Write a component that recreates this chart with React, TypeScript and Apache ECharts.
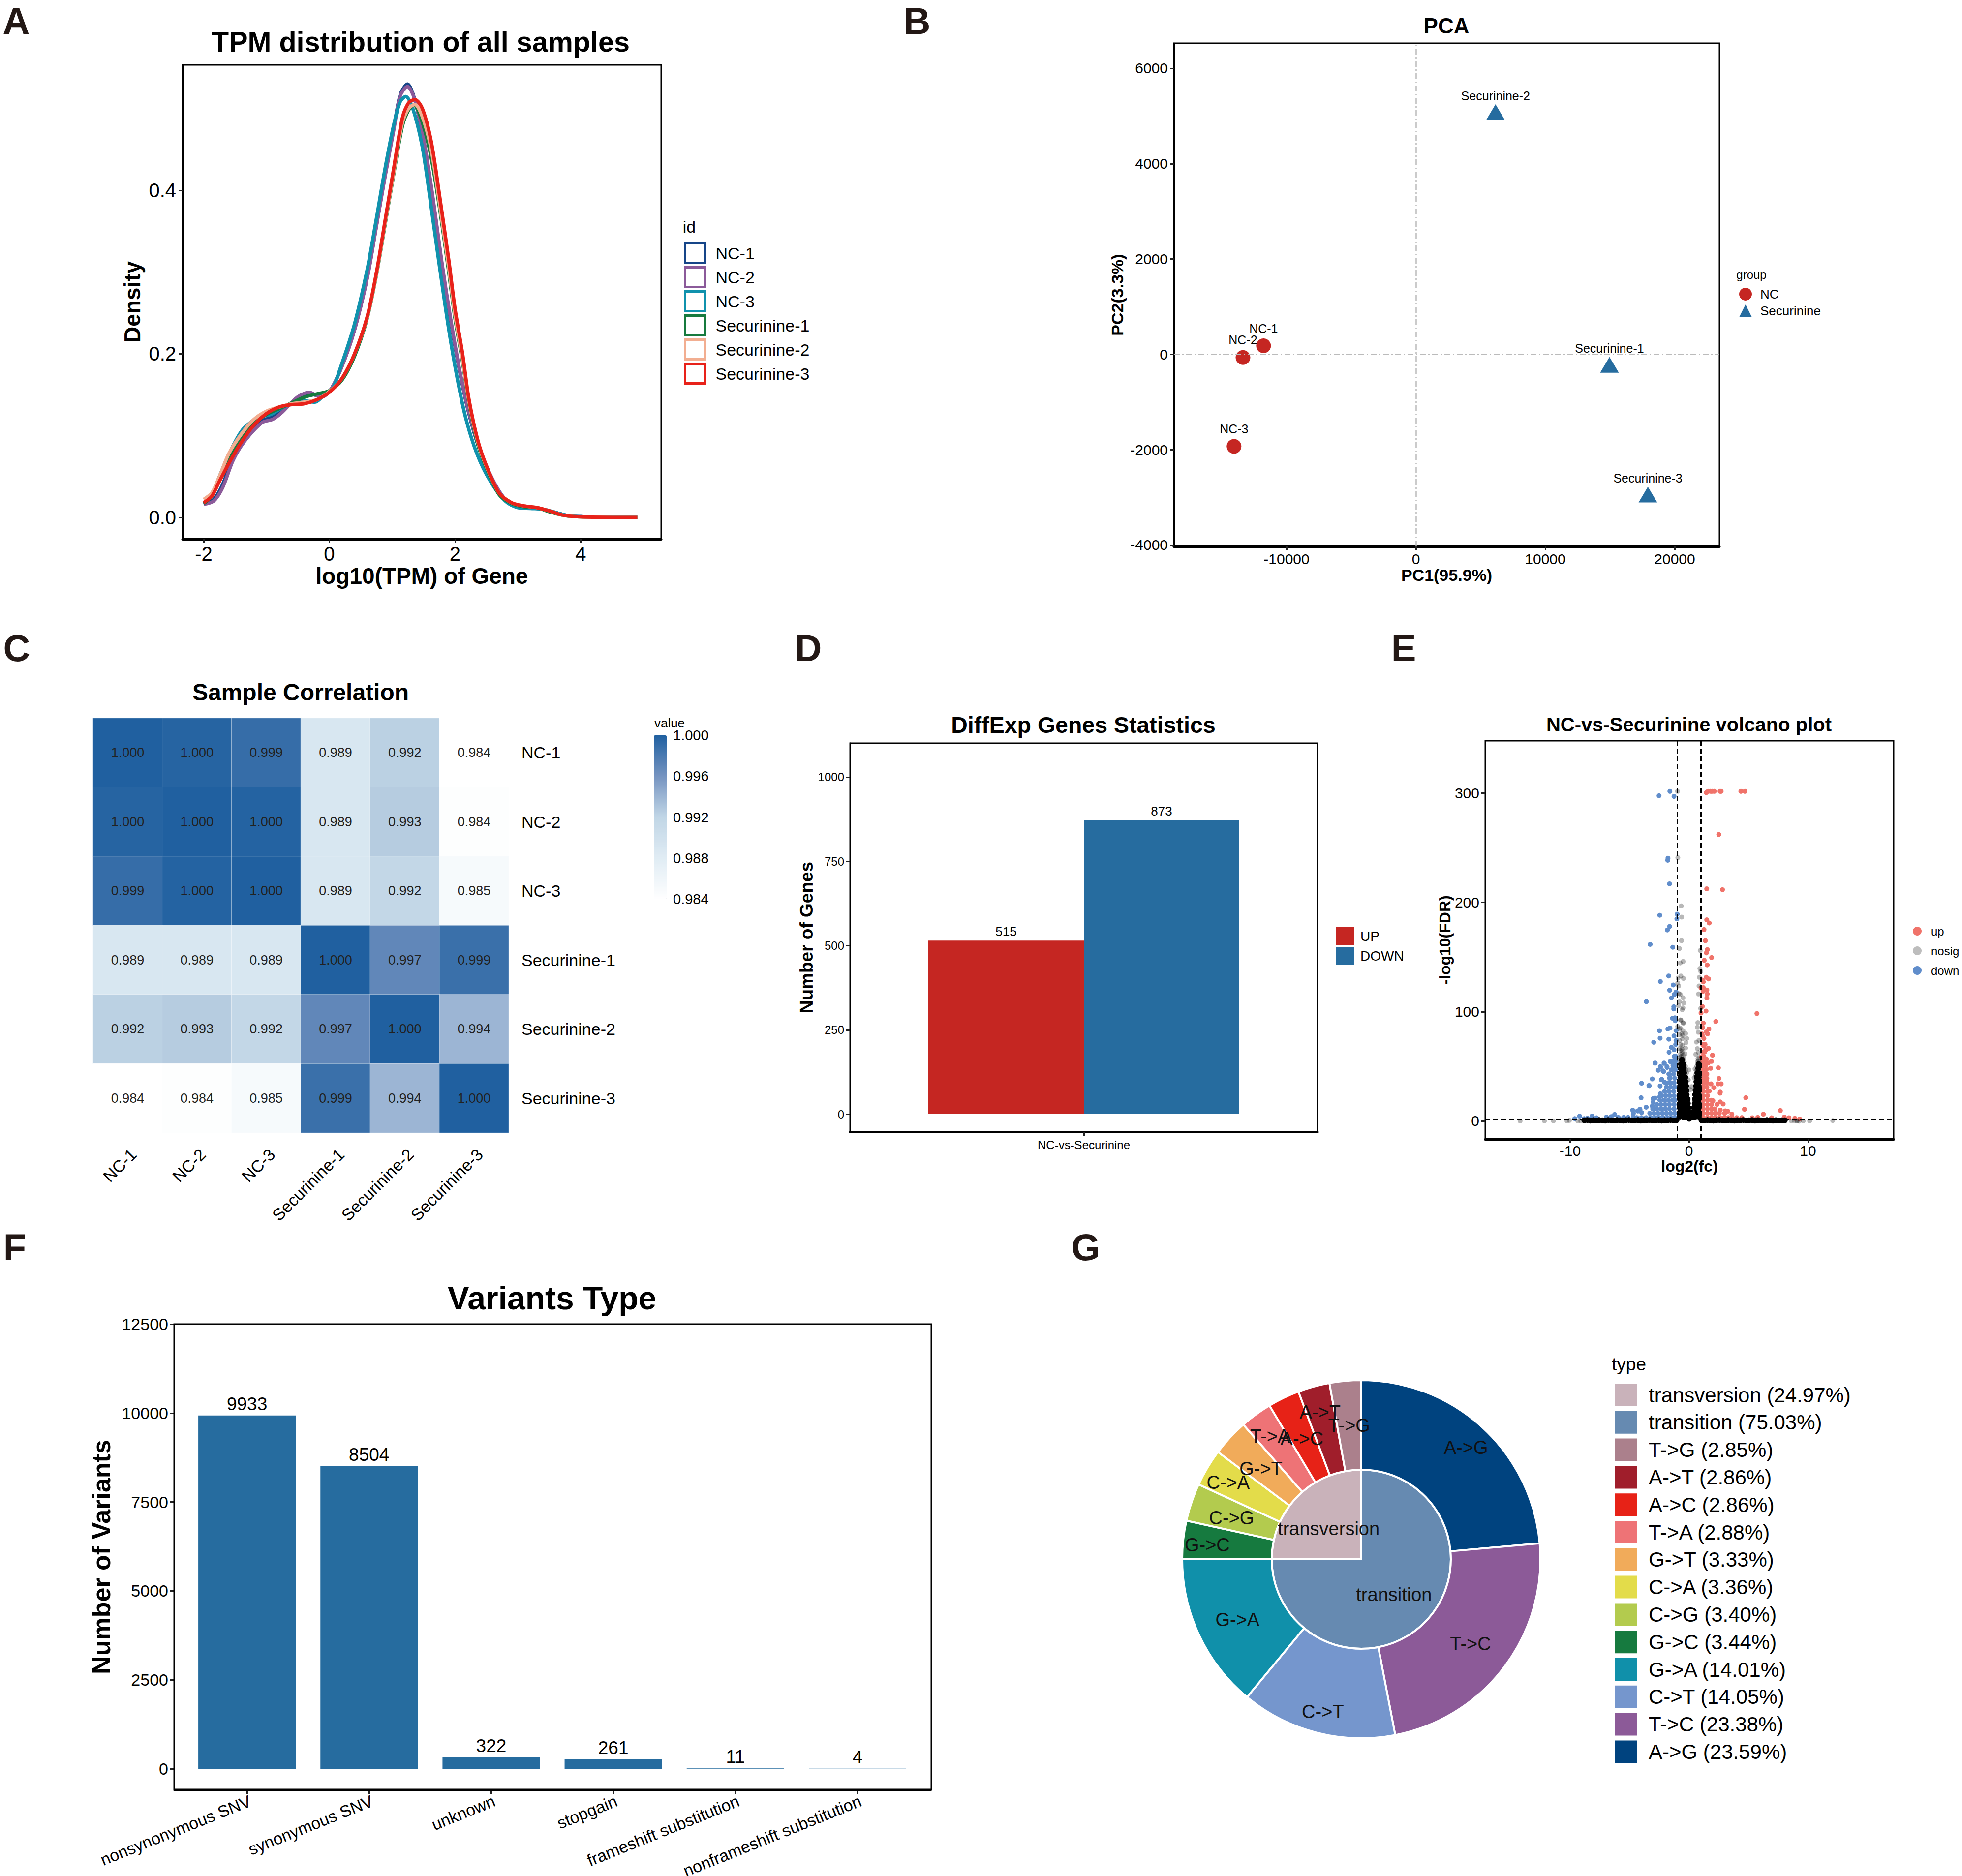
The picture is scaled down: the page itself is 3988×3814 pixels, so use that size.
import { useEffect, useRef } from 'react'
import * as echarts from 'echarts'

const FONT = '"Liberation Sans", Arial, sans-serif'

// ===== A: density curves =====
const densityNames = ['NC-1', 'NC-2', 'NC-3', 'Securinine-1', 'Securinine-2', 'Securinine-3']
const densityColors = ['#164588', '#8B5A9A', '#1092AD', '#177A3E', '#F2AE91', '#E8221A']
const nc1 = [[-2,.016],[-1.84,.022],[-1.7,.04],[-1.53,.074],[-1.35,.097],[-1.07,.118],[-.9,.123],[-.76,.13],[-.51,.146],[-.32,.151],[-.13,.148],[.01,.155],[.185,.182],[.395,.228],[.604,.294],[.744,.355],[.884,.417],[1.023,.475],[1.128,.517],[1.243,.53],[1.355,.512],[1.512,.456],[1.652,.387],[1.79,.31],[1.93,.241],[2.07,.18],[2.21,.13],[2.385,.084],[2.595,.046],[2.8,.022],[3,.014],[3.2,.012],[3.4,.01],[3.6,.006],[3.8,.002],[4,.001],[4.5,0],[4.9,0]]
const nc2 = [[-2,.016],[-1.84,.02],[-1.7,.036],[-1.53,.07],[-1.35,.093],[-1.07,.116],[-.9,.12],[-.76,.128],[-.51,.147],[-.32,.153],[-.13,.147],[.01,.155],[.185,.1816],[.395,.2276],[.604,.293],[.744,.354],[.884,.4157],[1.023,.473],[1.128,.5155],[1.243,.527],[1.355,.5117],[1.512,.458],[1.652,.389],[1.79,.312],[1.93,.243],[2.07,.1816],[2.21,.1317],[2.385,.0856],[2.595,.047],[2.8,.022],[3,.014],[3.2,.012],[3.4,.01],[3.6,.006],[3.8,.002],[4,.001],[4.5,0],[4.9,0]]
const nc3 = [[-2,.018],[-1.87,.027],[-1.75,.05],[-1.6,.077],[-1.387,.1067],[-1.14,.122],[-.93,.126],[-.72,.1355],[-.44,.143],[-.23,.141],[-.09,.149],[.045,.1566],[.185,.185],[.395,.235],[.604,.304],[.744,.3635],[.884,.4257],[1.023,.4797],[1.128,.5085],[1.215,.5148],[1.32,.502],[1.477,.454],[1.617,.3812],[1.757,.3045],[1.897,.2315],[2.036,.1696],[2.176,.1197],[2.35,.0775],[2.56,.0445],[2.8,.02],[3,.012],[3.2,.011],[3.4,.01],[3.6,.006],[3.8,.002],[4,.001],[4.5,0],[4.9,0]]
const sec1 = [[-2,.017],[-1.87,.026],[-1.75,.047],[-1.6,.07],[-1.4,.097],[-1.2,.115],[-1,.126],[-.8,.133],[-.6,.14],[-.4,.147],[-.2,.151],[0,.155],[.2,.168],[.4,.197],[.6,.243],[.75,.297],[.88,.355],[1.02,.418],[1.16,.478],[1.26,.498],[1.345,.504],[1.48,.483],[1.62,.44],[1.76,.375],[1.9,.3],[2,.243],[2.12,.19],[2.22,.14],[2.36,.09],[2.5,.06],[2.7,.028],[2.9,.017],[3.1,.013],[3.3,.012],[3.5,.007],[3.7,.003],[3.9,.001],[4.5,0],[4.9,0]]
const sec2 = [[-2,.022],[-1.87,.03],[-1.75,.05],[-1.6,.078],[-1.4,.102],[-1.2,.12],[-1,.13],[-.8,.135],[-.6,.139],[-.4,.141],[-.2,.144],[0,.154],[.2,.17],[.4,.2],[.6,.244],[.75,.298],[.88,.357],[1.02,.42],[1.16,.482],[1.26,.5],[1.36,.505],[1.48,.49],[1.62,.45],[1.76,.38],[1.9,.305],[2,.247],[2.12,.193],[2.22,.142],[2.36,.093],[2.5,.062],[2.7,.03],[2.9,.018],[3.1,.014],[3.3,.012],[3.5,.008],[3.7,.003],[3.9,.001],[4.5,0],[4.9,0]]
const sec3 = [[-2,.018],[-1.87,.026],[-1.75,.044],[-1.6,.066],[-1.4,.092],[-1.2,.113],[-1,.127],[-.8,.135],[-.6,.138],[-.4,.139],[-.2,.144],[0,.153],[.2,.17],[.4,.2],[.6,.245],[.75,.3],[.88,.36],[1.02,.425],[1.16,.488],[1.26,.507],[1.36,.511],[1.48,.5],[1.62,.46],[1.76,.39],[1.9,.315],[2,.255],[2.12,.2],[2.22,.145],[2.36,.095],[2.5,.063],[2.7,.03],[2.9,.018],[3.1,.014],[3.3,.012],[3.5,.008],[3.7,.003],[3.9,.001],[4.5,0],[4.9,0]]
const densityCurves = [nc1, nc2, nc3, sec1, sec2, sec3]
const densityXTicks = [-2, 0, 2, 4]
const densityYTicks = [0, 0.2, 0.4]

// ===== B: PCA =====
const pcaNC = [{ name: 'NC-1', value: [-11775, 179] }, { name: 'NC-2', value: [-13366, -65] }, { name: 'NC-3', value: [-14056, -1932] }]
const pcaSec = [{ name: 'Securinine-1', value: [14960, -220] }, { name: 'Securinine-2', value: [6153, 5080] }, { name: 'Securinine-3', value: [17930, -2943] }]
const pcaXTicks = [-10000, 0, 10000, 20000]
const pcaYTicks = [-4000, -2000, 0, 2000, 4000, 6000]

// ===== C: correlation =====
const corrNames = ['NC-1', 'NC-2', 'NC-3', 'Securinine-1', 'Securinine-2', 'Securinine-3']
const corrRows = [
  [1.0, 0.9997, 0.999, 0.989, 0.9923, 0.984],
  [0.9997, 1.0, 0.9998, 0.989, 0.9926, 0.9842],
  [0.999, 0.9998, 1.0, 0.989, 0.9918, 0.9851],
  [0.989, 0.989, 0.989, 1.0, 0.997, 0.9988],
  [0.9923, 0.9926, 0.9918, 0.997, 1.0, 0.994],
  [0.984, 0.9842, 0.9851, 0.9988, 0.994, 1.0],
]
const corrTicks = [0.984, 0.988, 0.992, 0.996, 1.0]
const corrRamp = ['#FFFFFF', '#E0ECF4', '#C1D6E6', '#7694C1', '#2060A0']

// ===== D: DEG counts =====
const degCategory = ['NC-vs-Securinine']
const degUp = [515]
const degDown = [873]
const degTicks = [0, 250, 500, 750, 1000]

// ===== E: volcano (the dense core is estimated) =====
const upPoints = [[1.45,300.5],[1.6,301.7],[1.81,301.7],[1.94,301.7],[2.12,301.7],[2.61,301.7],[2.7,301.7],[4.36,301.7],[4.7,301.7],[2.5,262.2],[1.49,212.5],[2.81,211.7],[1.49,184.1],[1.7,181.2],[1.26,175.2],[1.37,165],[1.54,156.8],[1.46,153.8],[1.9,149.5],[1.28,147],[1.53,142.8],[1.45,131.5],[1.64,130],[1.12,129],[1.2,127.3],[1.2,122],[1.01,121.8],[1.5,119.8],[1.19,118.8],[1.53,116.2],[1.5,112.5],[1.12,104.8],[1.43,100.6],[1.01,98.8],[5.71,98.3],[2.25,91],[1.2,89.6],[1.15,85.3],[1.67,84.2],[1.46,81.5],[1.09,79.7],[1.56,79.7],[1.25,75.5],[1.25,68.5],[1.64,66.5],[1.39,64.7],[1.97,60.2],[1.05,58.7],[1.25,58.7],[1.46,56.5],[1.88,54.5],[1.6,53],[2.47,48.6],[1.81,48.2],[1.32,46.7],[2.52,38.9],[1.39,42.2],[1.46,37.7],[1.85,33.9],[2.43,33.9],[2.7,33.9],[2.08,30.5],[2.63,26.4],[2.61,25.4],[1.7,27.2],[4.77,21.2],[2.01,18.5],[2.63,17.4],[2.87,15.5],[2.36,15.2],[4.66,10.7],[7.68,9.5],[6.25,6.2],[3.05,9.2],[3.26,8.9],[3.6,6.2],[2.63,9.9],[6.94,2.9],[8.01,3.5],[8.4,2.9],[5.32,2.9],[5.78,3.2],[4.43,2.9],[8.9,2.4],[9.3,1.8]]
const upBlock = [[1.2,3],[1.55,3],[1.9,3],[2.25,3],[2.6,3],[2.95,3],[3.3,3],[3.6,3],[4,3],[4.45,3],[1.2,7],[1.55,7],[1.9,7],[2.2,7],[2.55,7],[3,7],[1.2,11],[1.55,11],[1.9,11],[2.15,11],[1.2,15],[1.55,15],[1.9,15],[1.2,19],[1.55,19],[1.85,19],[1.2,23],[1.55,23],[1.2,27],[1.55,27],[1.2,31],[1.5,31],[1.2,35],[1.5,35],[1.2,39],[1.5,39],[1.2,43],[1.5,43],[1.2,47],[1.45,47],[1.15,51],[1.4,51],[1.15,55],[1.35,55],[1.15,59],[1.15,63],[1.3,63],[1.15,70],[1.35,70],[1.12,78]]
const downPoints = [[-1.61,301.7],[-2.52,297.7],[-1.26,297.1],[-1.77,240.5],[-1.79,238.6],[-1.64,217],[-2.46,188.3],[-.99,189.3],[-1.02,185],[-1.63,178],[-1.82,174.8],[-3.27,161.6],[-1.37,159],[-1.71,132.7],[-2.41,127.6],[-1.32,124.5],[-1.63,119.7],[-1.09,118],[-1.23,115.8],[-1.48,112.5],[-3.59,109.2],[-1.28,104.5],[-1.28,102.5],[-1.39,94],[-1.19,94.4],[-1.16,91.7],[-1.78,84.2],[-1.6,85],[-2.48,82.6],[-1.09,82.7],[-1.26,77.9],[-2.43,75.7],[-1.7,74.8],[-2.97,72],[-1.09,73.7],[-1.12,70],[-1.49,67.4],[-1.26,65.2],[-1.68,62.9],[-2.86,52.9],[-2.08,52.7],[-1.54,54.2],[-2.41,49.7],[-2.58,46.4],[-1.85,49],[-2.14,45.2],[-3.09,38.4],[-2.29,38],[-3.99,34.5],[-3.35,32.3],[-2.43,32],[-1.64,39.2],[-2.06,35.4],[-2.41,24.9],[-4.03,21.2],[-3.02,20.4],[-2.86,20.9],[-3.6,12.6],[-3.07,13.7],[-4.74,9.9],[-4.12,10.7],[-4.33,9.2],[-6.25,5.9],[-6.95,3.5],[-6.54,3.9],[-9.61,2.1],[-9.2,4.4],[-8.81,2.1],[-8.54,2.4],[-8.16,4.4],[-7.78,2.9],[-6.92,3.2],[-5.95,3.2],[-5.5,3.2],[-5.12,3.2],[-4.68,3.9],[-4.68,6.9],[-4.3,9.1],[-3.98,7.6],[-3.37,32.4],[-3.02,17.3],[-3.09,13.6],[-2.47,21.9],[-2.33,37.7],[-2.84,53],[-2.1,53],[-1.57,54.5],[-2.4,49.4],[-2.19,45.9],[-1.85,49.7],[-1.5,46.7],[-1.6,40],[-1.85,34.7],[-1.5,34.7]]
const downBlock = [[-4.4,3],[-4,3],[-3.6,3],[-3.2,3],[-2.85,3],[-2.5,3],[-2.15,3],[-1.8,3],[-1.45,3],[-1.15,3],[-3.3,7],[-2.95,7],[-2.6,7],[-2.25,7],[-1.9,7],[-1.55,7],[-1.2,7],[-3.05,11],[-2.7,11],[-2.35,11],[-2,11],[-1.65,11],[-1.25,11],[-2.7,15],[-2.35,15],[-2,15],[-1.65,15],[-1.25,15],[-2.45,19],[-2.1,19],[-1.75,19],[-1.4,19],[-1.2,19],[-2.3,23],[-1.95,23],[-1.6,23],[-1.25,23],[-2.05,27],[-1.7,27],[-1.3,27],[-1.9,31],[-1.55,31],[-1.2,31],[-1.7,35],[-1.25,35],[-1.6,39],[-1.2,39],[-1.7,43],[-1.3,43],[-1.4,47],[-1.15,47],[-1.35,51],[-1.15,51],[-1.3,55],[-1.1,55],[-1.25,59],[-1.1,59]]
const nosigPoints = [[-.97,301.7],[-.94,241],[-.66,196.8],[-.62,186.6],[-.63,165],[-.81,157.8],[.94,156],[-.5,146],[-.74,144.6],[-.68,132.7],[-.47,130.5],[-.92,130.8],[-.95,126.3],[-.88,123.6],[.87,131.5],[.84,123.6],[.8,116.2],[-.84,116.5],[-.74,115.8],[-.51,112.8],[-.81,109],[-.44,108],[-.88,105.3],[-.51,103.5],[-.58,101.8],[.91,139.5],[.99,136.8],[.98,103],[-.68,92.2],[-.72,92.5],[-.47,89.5],[-.5,89.9],[.74,90],[.7,85.7],[.79,81.2],[-.95,86.5],[-.74,85],[-.78,84],[-.51,82.7],[-.29,80],[-.81,79],[-.6,80],[-.54,78.2],[-.19,75.5],[-.54,75.2],[-.79,73.7],[-.26,71.5],[-.54,69.2],[-.7,70],[.63,72.2],[.84,73.7],[-.81,66.2],[-.6,66],[-.29,66.7],[-.68,64.7],[-.55,64],[.7,66.2],[.57,61],[.8,62.5],[-.33,61.4],[-.72,61],[-.5,60],[-.6,62],[.7,54.2],[.75,57],[.85,58],[-.01,46.7],[.5,47.7],[.43,39.6],[.22,31.4],[-.06,37.7],[.12,28.7],[-.75,58],[-.65,59],[-.45,57],[-.4,54],[-.3,50],[-.25,47],[-.2,44],[-.82,56],[.78,55],[.88,53],[.65,50],[.6,46],[.55,42],[-14.2,0],[-12.16,0],[-11.4,0],[-10.26,0],[-10.05,.5],[-9.35,0],[-9.1,0],[10.14,0],[12.08,.3],[9.1,0],[9.6,0],[9.27,-.2],[8.6,0],[9.06,0],[8.85,.2]]
const nosigCore = [[-.6,56],[-.68,52],[-.5,52],[-.7,48],[-.45,48],[-.7,44],[-.42,44],[-.72,40],[-.5,40],[-.32,40],[-.75,36],[-.5,36],[-.28,36],[-.75,32],[-.5,32],[-.25,32],[-.77,28],[-.5,28],[-.22,28],[-.77,24],[-.5,24],[-.2,24],[-.77,20],[-.5,20],[-.25,20],[-.12,20],[-.77,16],[-.5,16],[-.25,16],[-.1,16],[-.77,12],[-.5,12],[-.25,12],[-.05,12],[-.77,8],[-.5,8],[-.25,8],[-.02,8],[-.77,4],[-.5,4],[-.25,4],[0,4],[.02,2],[.8,52],[.78,48],[.7,44],[.82,44],[.65,40],[.82,40],[.62,36],[.82,36],[.6,32],[.82,32],[.55,28],[.82,28],[.52,24],[.72,24],[.82,24],[.5,20],[.7,20],[.82,20],[.48,16],[.68,16],[.82,16],[.42,12],[.62,12],[.82,12],[.38,8],[.6,8],[.82,8],[.3,4],[.55,4],[.82,4]]
const nosigBand = [[-8.8,.5],[-8.55,.8],[-8.3,.3],[-8.05,.6],[-7.8,.4],[-7.55,.7],[-7.3,.5],[-7.05,.3],[-6.8,.8],[-6.55,.5],[-6.3,.4],[-6.05,.7],[-5.8,.5],[-5.55,.3],[-5.3,.6],[-5.05,.8],[-4.8,.4],[-4.55,.5],[-4.3,.7],[-4.05,.3],[-3.8,.6],[-3.55,.5],[-3.3,.8],[-3.05,.4],[-2.8,.5],[-2.55,.7],[-2.3,.3],[-2.05,.6],[-1.8,.5],[-1.55,.8],[-1.3,.4],[-1.05,.6],[1.05,.6],[1.3,.4],[1.55,.7],[1.8,.5],[2.05,.3],[2.3,.6],[2.55,.8],[2.8,.5],[3.05,.4],[3.3,.7],[3.55,.5],[3.8,.3],[4.05,.6],[4.3,.5],[4.55,.8],[4.8,.4],[5.05,.5],[5.3,.7],[5.55,.3],[5.8,.6],[6.05,.5],[6.3,.4],[6.55,.7],[6.8,.5],[7.05,.3],[7.3,.6],[7.55,.4],[7.8,.5],[8.05,.5]]
const volcanoXTicks = [-10, 0, 10]
const volcanoYTicks = [0, 100, 200, 300]

// ===== F: variants =====
const variantNames = ['nonsynonymous SNV', 'synonymous SNV', 'unknown', 'stopgain', 'frameshift substitution', 'nonframeshift substitution']
const variantCounts = [9933, 8504, 322, 261, 11, 4]
const variantTicks = [0, 2500, 5000, 7500, 10000, 12500]

// ===== G: substitution types =====
const innerNames = ['transition', 'transversion']
const innerShares = [75.03, 24.97]
const innerColors = ['#668AB1', '#C9B2BA']
const outerNames = ['A->G', 'T->C', 'C->T', 'G->A', 'G->C', 'C->G', 'C->A', 'G->T', 'T->A', 'A->C', 'A->T', 'T->G']
const outerShares = [23.59, 23.38, 14.05, 14.01, 3.44, 3.4, 3.36, 3.33, 2.88, 2.86, 2.86, 2.85]
const outerColors = ['#00437F', '#8C5A98', '#7596CD', '#1090AA', '#167A3F', '#B3CB4E', '#E3DC4A', '#F1AB5A', '#EE7376', '#E72217', '#A01E2B', '#AB808C']

const text = (t: string, x: number, y: number, fontSize: number, bold = true, fill = '#000') => ({
  type: 'text', x, y, z: 10,
  style: { text: t, font: `${bold ? 'bold ' : ''}${fontSize}px ${FONT}`, fill, align: 'center', verticalAlign: 'middle' },
})

const frame = { show: true, borderColor: '#000', borderWidth: 3 }
const tickStyle = { color: '#222', width: 3 }
const tick = (values: number[]) => ({ show: true, customValues: values, length: 8, lineStyle: tickStyle })
const thickLine = { show: true, onZero: false, lineStyle: { color: '#000', width: 5 } }
const thinLine = { show: true, onZero: false, lineStyle: { color: '#000', width: 3 } }
const noLine = { show: false, onZero: false }
const plainLegend = { orient: 'vertical', padding: 0, selectedMode: false }

// clear pie rings only carry labels, a little lower than the visible rings' centre
const labelRing = {
  type: 'pie', center: [2767, 3175], startAngle: 90, clockwise: true, silent: true, z: 4,
  itemStyle: { color: 'rgba(0,0,0,0)', borderWidth: 0 },
  label: { position: 'inside', fontSize: 38, color: '#111' }, labelLine: { show: false }, minShowLabelAngle: 0,
  avoidLabelOverlap: false, labelLayout: { hideOverlap: false },
}

function valueAxis(gridIndex: number, min: number, max: number, ticks: number[], fontSize: number, margin: number, fmt: (v: number) => string, name?: string, nameSize = 0, nameGap = 0) {
  return {
    type: 'value', gridIndex, min, max, splitLine: { show: false },
    axisTick: tick(ticks),
    axisLabel: { customValues: ticks, fontSize, margin, color: '#000', formatter: fmt },
    name, nameLocation: 'middle', nameGap,
    nameTextStyle: { fontSize: nameSize, fontWeight: 'bold', color: '#000' },
  }
}

function buildOption() {
  const heat = corrRows.flatMap((row, y) => row.map((v, x) => [x, y, v]))
  return {
    animation: false,
    backgroundColor: '#fff',
    textStyle: { fontFamily: FONT, color: '#000' },
    grid: [
      { left: 371, top: 132, width: 973, height: 964, ...frame },
      { left: 2386, top: 88, width: 1109, height: 1023, ...frame },
      { left: 189, top: 1460, width: 845, height: 843 },
      { left: 1329, top: 1495, width: 26, height: 333 },
      { left: 1728, top: 1511, width: 950, height: 790, ...frame },
      { left: 3019, top: 1506, width: 830, height: 810, ...frame },
      { left: 378, top: 2692, width: 1489, height: 947 },
    ].map((g) => ({ ...g, outerBoundsMode: 'none' })),
    xAxis: [
      { ...valueAxis(0, -2.336, 5.28, densityXTicks, 40, 10, (v) => String(v), 'log10(TPM) of Gene', 46, 52), axisLine: thickLine },
      { ...valueAxis(1, -18707, 23460, pcaXTicks, 30, 10, (v) => String(v), 'PC1(95.9%)', 34, 40), axisLine: thickLine },
      { type: 'category', gridIndex: 2, data: corrNames, axisLine: noLine, axisTick: { show: false }, splitLine: { show: false }, axisLabel: { rotate: 45, fontSize: 34, margin: 26, color: '#000', interval: 0, verticalAlign: 'top' } },
      { type: 'value', gridIndex: 3, min: 0, max: 1, show: false },
      { type: 'category', gridIndex: 4, data: degCategory, axisLine: thickLine, axisTick: { show: true, alignWithLabel: true, length: 8, lineStyle: tickStyle }, axisLabel: { fontSize: 24, margin: 14, color: '#000' } },
      { ...valueAxis(5, -17.13, 17.2, volcanoXTicks, 30, 8, (v) => String(v), 'log2(fc)', 32, 36), axisLine: thickLine },
      { type: 'category', gridIndex: 6, data: variantNames, axisLine: noLine, axisTick: { show: true, alignWithLabel: true, length: 8, lineStyle: tickStyle }, axisLabel: { rotate: 22, fontSize: 34, margin: 5, color: '#000', interval: 0, verticalAlign: 'top' } },
    ],
    yAxis: [
      { ...valueAxis(0, -0.0265, 0.5534, densityYTicks, 40, 13, (v) => v.toFixed(1), 'Density', 46, 79), axisLine: thinLine },
      { ...valueAxis(1, -4031, 6526, pcaYTicks, 30, 12, (v) => String(v), 'PC2(3.3%)', 34, 98), axisLine: thinLine },
      { type: 'category', gridIndex: 2, data: corrNames, inverse: true, position: 'right', axisLine: noLine, axisTick: { show: false }, splitLine: { show: false }, axisLabel: { fontSize: 34, margin: 26, color: '#000', interval: 0 } },
      { type: 'value', gridIndex: 3, min: 0.984, max: 1, position: 'right', axisLine: noLine, splitLine: { show: false }, axisTick: { show: true, inside: true, length: 5, customValues: corrTicks, lineStyle: { color: '#fff', width: 2 } }, axisLabel: { customValues: corrTicks, fontSize: 29, margin: 13, color: '#000', formatter: (v: number) => v.toFixed(3) } },
      { ...valueAxis(4, -52.5, 1100.7, degTicks, 24, 12, (v) => String(v), 'Number of Genes', 37, 70), axisLine: thinLine },
      { ...valueAxis(5, -16.7, 348, volcanoYTicks, 30, 12, (v) => String(v), '-log10(FDR)', 32, 63), axisLine: thinLine },
      { ...valueAxis(6, -595, 12500, variantTicks, 34, 12, (v) => String(v), 'Number of Variants', 52, 122), offset: 24, axisLine: noLine },
    ],
    visualMap: {
      type: 'continuous', seriesIndex: 8, min: 0.984, max: 1, left: 1329, top: 1495, itemWidth: 26, itemHeight: 333,
      padding: 0, calculable: false, showLabel: false, text: null, inRange: { color: corrRamp },
    },
    legend: [
      {
        ...plainLegend, left: 1390, top: 492, itemWidth: 40, itemHeight: 40, itemGap: 4,
        textStyle: { fontSize: 34, color: '#000', padding: [0, 0, 0, 17] },
        data: densityNames.map((name, i) => ({ name, icon: 'rect', itemStyle: { color: '#fff', borderColor: densityColors[i], borderWidth: 5 } })),
      },
      {
        ...plainLegend, left: 3535, top: 585, itemWidth: 26, itemHeight: 26, itemGap: 8,
        textStyle: { fontSize: 26, color: '#000', padding: [0, 0, 0, 12] },
        data: [{ name: 'NC', icon: 'circle' }, { name: 'Securinine', icon: 'triangle' }],
      },
      {
        ...plainLegend, left: 2715, top: 1885, itemWidth: 37, itemHeight: 36, itemGap: 4,
        textStyle: { fontSize: 28, color: '#000', padding: [0, 0, 0, 8] },
        data: [{ name: 'UP', icon: 'rect' }, { name: 'DOWN', icon: 'rect' }],
      },
      {
        ...plainLegend, left: 3888, top: 1881, itemWidth: 18, itemHeight: 18, itemGap: 16,
        textStyle: { fontSize: 24, color: '#000', padding: [0, 0, 0, 14] },
        data: [
          { name: 'up', icon: 'circle' },
          { name: 'nosig', icon: 'circle', itemStyle: { color: '#BDBDBD', opacity: 1 } },
          { name: 'down', icon: 'circle' },
        ],
      },
      {
        ...plainLegend, left: 3282, top: 2813, itemWidth: 46, itemHeight: 46, itemGap: 9.8,
        textStyle: { fontSize: 42, color: '#000', padding: [0, 0, 0, 18] },
        data: [...[...innerNames].reverse(), ...[...outerNames].reverse()].map((name) => ({ name, icon: 'rect', itemStyle: { borderWidth: 0 } })),
        formatter: (name: string) => {
          const i = innerNames.indexOf(name)
          const share = i >= 0 ? innerShares[i] : outerShares[outerNames.indexOf(name)]
          return `${name} (${share.toFixed(2)}%)`
        },
      },
    ],
    graphic: {
      elements: [
        { type: 'rect', z: 5, shape: { x: 354, y: 2692, width: 1539, height: 947 }, style: { fill: 'none', stroke: '#000', lineWidth: 3 } },
        { type: 'line', z: 5, shape: { x1: 354, y1: 3639, x2: 1893, y2: 3639 }, style: { stroke: '#000', lineWidth: 5 } },
        text('A', 33, 42, 76, true, '#231815'), text('B', 1864, 42, 76, true, '#231815'), text('C', 34, 1317, 76, true, '#231815'),
        text('D', 1643, 1317, 76, true, '#231815'), text('E', 2853, 1317, 76, true, '#231815'),
        text('F', 30, 2535, 76, true, '#231815'), text('G', 2207, 2535, 76, true, '#231815'),
        text('TPM distribution of all samples', 855, 85, 57.5),
        text('PCA', 2940, 52, 44),
        text('Sample Correlation', 611, 1407, 48),
        text('DiffExp Genes Statistics', 2202, 1474, 46.5),
        text('NC-vs-Securinine volcano plot', 3433, 1473, 40),
        text('Variants Type', 1122, 2639, 66),
        text('id', 1401, 461, 34, false),
        text('group', 3560, 558, 24, false),
        text('value', 1361, 1470, 26, false),
        text('type', 3311, 2773, 37, false),
      ],
    },
    series: [
      // 0-5 density curves
      ...densityNames.map((name, i) => ({
        name, type: 'line', xAxisIndex: 0, yAxisIndex: 0, data: densityCurves[i], smooth: 0.3, showSymbol: false,
        lineStyle: { color: densityColors[i], width: 7 }, itemStyle: { color: densityColors[i] },
      })),
      // 6-7 PCA
      {
        name: 'NC', type: 'scatter', xAxisIndex: 1, yAxisIndex: 1, data: pcaNC, symbol: 'circle', symbolSize: 30,
        itemStyle: { color: '#C52622', opacity: 1 }, label: { show: true, position: 'top', distance: 8, fontSize: 25, color: '#000', formatter: '{b}' },
        markLine: {
          silent: true, symbol: 'none', label: { show: false },
          lineStyle: { color: '#BBBBBB', width: 2.5, type: [12, 5, 3, 5] },
          data: [{ xAxis: 0 }, { yAxis: 0 }],
        },
      },
      {
        name: 'Securinine', type: 'scatter', xAxisIndex: 1, yAxisIndex: 1, data: pcaSec, symbol: 'triangle', symbolSize: [38, 32],
        itemStyle: { color: '#266C9F', opacity: 1 }, label: { show: true, position: 'top', distance: 5, fontSize: 25, color: '#000', formatter: '{b}' },
      },
      // 8 correlation heatmap
      {
        type: 'heatmap', xAxisIndex: 2, yAxisIndex: 2, data: heat,
        itemStyle: { borderColor: 'rgba(255,255,255,0.45)', borderWidth: 1 },
        label: { show: true, fontSize: 27, color: '#222', formatter: (p: any) => p.value[2].toFixed(3) },
      },
      // 9-10 DEG bars
      {
        name: 'UP', type: 'bar', xAxisIndex: 4, yAxisIndex: 4, data: degUp, barWidth: 316, barGap: 0,
        itemStyle: { color: '#C52622' }, label: { show: true, position: 'top', distance: 5, fontSize: 26, color: '#000' },
      },
      {
        name: 'DOWN', type: 'bar', xAxisIndex: 4, yAxisIndex: 4, data: degDown, barWidth: 316, barGap: 0,
        itemStyle: { color: '#266C9F' }, label: { show: true, position: 'top', distance: 5, fontSize: 26, color: '#000' },
      },
      // volcano
      { name: 'up', type: 'scatter', xAxisIndex: 5, yAxisIndex: 5, data: [...upPoints, ...upBlock], symbolSize: 10, itemStyle: { color: '#F0736A', opacity: 1 } },
      { name: 'down', type: 'scatter', xAxisIndex: 5, yAxisIndex: 5, data: [...downPoints, ...downBlock], symbolSize: 10, itemStyle: { color: '#608DCB', opacity: 1 } },
      { name: 'nosig', type: 'scatter', xAxisIndex: 5, yAxisIndex: 5, data: nosigPoints, symbolSize: 10, itemStyle: { color: '#000', opacity: 0.28 } },
      {
        name: 'nosig', type: 'scatter', xAxisIndex: 5, yAxisIndex: 5, data: [...nosigCore, ...nosigBand], symbolSize: 12, itemStyle: { color: '#000', opacity: 1 },
        markLine: {
          silent: true, symbol: 'none', label: { show: false },
          lineStyle: { color: '#000', width: 3, type: [10, 6] },
          data: [{ xAxis: -1 }, { xAxis: 1 }, { yAxis: 1.3 }],
        },
      },
      // variants
      {
        type: 'bar', xAxisIndex: 6, yAxisIndex: 6, data: variantCounts, barWidth: 198,
        itemStyle: { color: '#266C9F' }, label: { show: true, position: 'top', distance: 5, fontSize: 37, color: '#000' },
      },
      // visible pie rings
      {
        type: 'pie', center: [2767, 3170], radius: [0, 182], startAngle: 90, clockwise: true, silent: true,
        data: innerNames.map((name, i) => ({ name, value: innerShares[i], itemStyle: { color: innerColors[i] } })),
        itemStyle: { borderColor: '#fff', borderWidth: 4 }, label: { show: false }, labelLine: { show: false },
      },
      {
        type: 'pie', center: [2767, 3170], radius: [182, 364], startAngle: 90, clockwise: true, silent: true,
        data: outerNames.map((name, i) => ({ name, value: outerShares[i], itemStyle: { color: outerColors[i] } })),
        itemStyle: { borderColor: '#fff', borderWidth: 4 }, label: { show: false }, labelLine: { show: false },
      },
      // label rings: inner pie, then the two staggered radii of the outer pie
      { ...labelRing, radius: [0, 182], data: innerNames.map((name, i) => ({ name, value: innerShares[i], label: { show: true } })) },
      ...[[263, 361, 0], [189, 361, 1]].map(([r0, r1, odd]) => ({
        ...labelRing, radius: [r0, r1],
        data: outerNames.map((name, i) => ({ name, value: outerShares[i], label: { show: i % 2 === odd } })),
      })),
    ],
  }
}

export default function App() {
  const ref = useRef<HTMLDivElement>(null)

  useEffect(() => {
    if (!ref.current) return
    const chart = echarts.init(ref.current, undefined, { renderer: 'svg' })
    chart.setOption(buildOption() as any)
    return () => chart.dispose()
  }, [])

  return <div ref={ref} style={{ position: 'absolute', left: 0, top: 0, width: 3988, height: 3814, background: '#fff' }} />
}
